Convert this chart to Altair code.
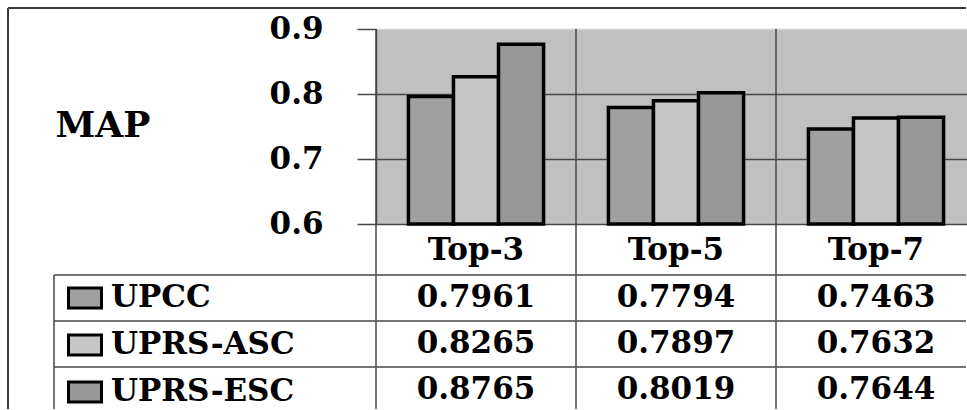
import altair as alt
import pandas as pd

# ---- data ----
categories = ["Top-3", "Top-5", "Top-7"]
series = ["UPCC", "UPRS-ASC", "UPRS-ESC"]
upcc = [0.7961, 0.7794, 0.7463]
uprs_asc = [0.8265, 0.7897, 0.7632]
uprs_esc = [0.8765, 0.8019, 0.7644]
y_ticks = [0.6, 0.7, 0.8, 0.9]
bar_colors = ["#a0a0a0", "#c6c6c6", "#979797"]

rows = []
for s, vals in zip(series, [upcc, uprs_asc, uprs_esc]):
    for c, v in zip(categories, vals):
        rows.append({"cat": c, "series": s, "value": v})
df = pd.DataFrame(rows)
cat_df = pd.DataFrame({"cat": categories})
ser_df = pd.DataFrame({"series": series})
one = pd.DataFrame({"k": [0]})

W, H = 591, 195
FONT = "DejaVu Serif"
FS = 31
LINE = "#474747"

x_scale = alt.Scale(domain=categories, range=[0, 600], paddingInner=0, paddingOuter=0)
table_y = alt.Scale(domain=series, range=[246, 384], paddingInner=0, paddingOuter=0)

outer_top = alt.Chart(one).mark_rule(color="#3a3a3a", strokeWidth=2).encode(
    x=alt.value(-368), x2=alt.value(590), y=alt.value(-21))
outer_left = alt.Chart(one).mark_rule(color="#3a3a3a", strokeWidth=2).encode(
    x=alt.value(-368), y=alt.value(-21), y2=alt.value(380))
legend_border = alt.Chart(one).mark_rule(color=LINE, strokeWidth=1.5).encode(
    x=alt.value(-322), y=alt.value(246), y2=alt.value(380))

col_rules = alt.Chart(cat_df).mark_rule(color=LINE, strokeWidth=1.5).encode(
    x=alt.X("cat:N", scale=x_scale, axis=None, bandPosition=0),
    y=alt.value(0), y2=alt.value(380))

header = alt.Chart(cat_df).mark_text(font=FONT, fontSize=FS, fontWeight="bold",
                                     color="black", baseline="alphabetic").encode(
    x=alt.X("cat:N", scale=x_scale, axis=None),
    y=alt.value(231),
    text="cat:N",
)

row_rules = alt.Chart(ser_df).mark_rule(color=LINE, strokeWidth=1.5).encode(
    y=alt.Y("series:N", scale=table_y, axis=None, bandPosition=0),
    x=alt.value(-322), x2=alt.value(590))

bars = alt.Chart(df).mark_bar(stroke="black", strokeWidth=3.5, strokeJoin="miter").encode(
    x=alt.X("cat:N", scale=x_scale, axis=None),
    xOffset=alt.XOffset("series:N", scale=alt.Scale(domain=series, paddingInner=0, paddingOuter=0.72)),
    y=alt.Y("value:Q", scale=alt.Scale(domain=[0.6, 0.9], zero=False, nice=False),
            axis=alt.Axis(values=y_ticks, format=".1f", title="MAP", titleAngle=0,
                          titleX=-321, titleY=96, titleAlign="left", titleBaseline="middle",
                          titleFont=FONT, titleFontSize=36, titleFontWeight="bold",
                          titleColor="black", labelFont=FONT, labelFontSize=FS,
                          labelFontWeight="bold", labelColor="black", labelPadding=34,
                          tickSize=19, tickColor=LINE, tickWidth=1.5, domainColor=LINE,
                          domainWidth=1.5, grid=True, gridWidth=1.5,
                          gridColor={"condition": {"test": "datum.value > 0.85", "value": "#d2d2d2"},
                                     "value": LINE})),
    y2=alt.datum(0.6),
    color=alt.Color("series:N", title=None,
                    scale=alt.Scale(domain=series, range=bar_colors),
                    legend=alt.Legend(orient="none", legendX=-309, legendY=251,
                                      direction="vertical", padding=0,
                                      symbolType="M-1,-0.6H1V0.6H-1Z", symbolSize=1089,
                                      symbolStrokeColor="black", symbolStrokeWidth=3,
                                      symbolOpacity=1, labelFont=FONT, labelFontSize=FS,
                                      labelFontWeight="bold", labelColor="black",
                                      labelOffset=8, labelLimit=400, rowPadding=13)),
)

text = alt.Chart(df).mark_text(font=FONT, fontSize=FS, fontWeight="bold",
                               color="black", baseline="middle").encode(
    x=alt.X("cat:N", scale=x_scale, axis=None),
    y=alt.Y("series:N", scale=table_y, axis=None),
    text=alt.Text("value:Q", format=".4f"),
)

chart = alt.layer(outer_top, outer_left, legend_border, col_rules, row_rules, bars, header, text).resolve_scale(
    y="independent"
).properties(
    width=W, height=H,
    padding={"left": 7, "top": 7, "right": 0, "bottom": 0},
    background="white",
).configure_view(fill="#c0c0c0", stroke="transparent")

chart.save("out.html", embed_options={"renderer": "svg", "actions": False})
